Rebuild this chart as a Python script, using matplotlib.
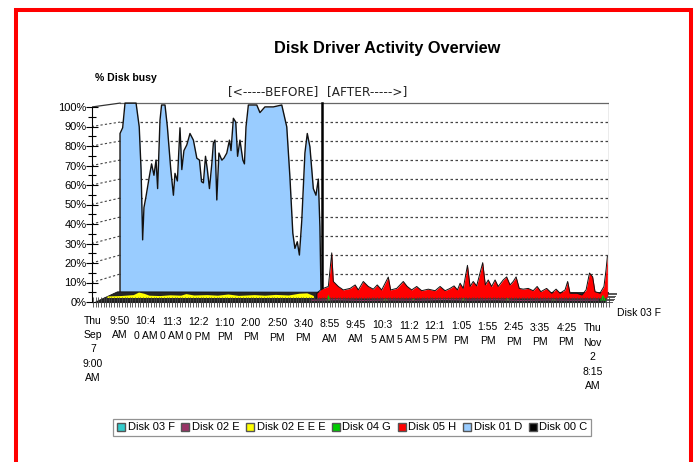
import matplotlib
matplotlib.use('Agg')
import matplotlib.pyplot as plt
import matplotlib.transforms as mtransforms
from matplotlib.lines import Line2D
from matplotlib.patches import Rectangle, Polygon
from matplotlib.ticker import MultipleLocator, NullFormatter

plt.rcParams['font.family'] = ['Liberation Sans', 'DejaVu Sans']

# front axis labels, one per slot
time_labels = ['Thu\nSep\n7\n9:00\nAM', '9:50\nAM', '10:4\n0 AM', '11:3\n0 AM', '12:2\n0 PM',
               '1:10\nPM', '2:00\nPM', '2:50\nPM', '3:40\nPM', '8:55\nAM', '9:45\nAM',
               '10:3\n5 AM', '11:2\n5 AM', '12:1\n5 PM', '1:05\nPM', '1:55\nPM', '2:45\nPM',
               '3:35\nPM', '4:25\nPM', 'Thu\nNov\n2\n8:15\nAM']
y_ticks = [0, 10, 20, 30, 40, 50, 60, 70, 80, 90, 100]
y_labels = ['%d%%' % v for v in y_ticks]

series_names = ['Disk 03 F', 'Disk 02 E', 'Disk 02 E E E', 'Disk 04 G',
                'Disk 05 H', 'Disk 01 D', 'Disk 00 C']
series_colors = ['#33cccc', '#993366', '#ffff00', '#00cc00',
                 '#ff0000', '#99ccff', '#000000']

# Disk 01 D - before the change (x in slots on the back plane, % busy)
d01_x = [0.0, 0.1, 0.19, 0.61, 0.73, 0.8, 0.86, 0.91, 0.99, 1.11, 1.2, 1.29, 1.37, 1.43,
         1.52, 1.58, 1.71, 1.8, 1.93, 2.03, 2.09, 2.18, 2.28, 2.35, 2.43, 2.54, 2.66, 2.79,
         2.92, 3.02, 3.1, 3.17, 3.25, 3.32, 3.4, 3.49, 3.55, 3.61, 3.68, 3.76, 3.87, 3.95,
         4.06, 4.16, 4.22, 4.31, 4.4, 4.47, 4.56, 4.67, 4.73, 4.79, 4.88, 5.2, 5.32, 5.51,
         5.83, 6.15, 6.34, 6.46, 6.57, 6.65, 6.74, 6.82, 6.91, 7.03, 7.12, 7.22, 7.35, 7.45,
         7.54, 7.6, 7.64]
d01_y = [84, 87, 100, 100, 87.5, 65, 28, 45, 51, 61, 68, 62, 70, 55,
         91, 99, 99, 87.5, 65, 51.5, 63, 59, 87, 65, 75, 78, 84, 80.5,
         71, 70, 58.6, 58, 72, 65, 55, 68, 79, 80.5, 49, 73.7, 70, 71,
         73.7, 80.5, 75, 92, 90, 72, 80.5, 70, 68, 87.5, 99, 99, 95, 98,
         98, 99, 87.5, 61, 31.5, 23.5, 27, 20, 38, 73.7, 84, 77, 55, 51.5,
         60, 35, 2]

# Disk 05 H - after the change
d05_x = [7.48, 7.67, 7.92, 8.05, 8.11, 8.3, 8.49, 8.75, 8.94, 9.06, 9.25, 9.44, 9.63, 9.78,
         9.95, 10.2, 10.29, 10.52, 10.77, 10.92, 11.09, 11.28, 11.47, 11.72, 11.98, 12.17,
         12.36, 12.55, 12.7, 12.83, 12.93, 13.05, 13.21, 13.31, 13.43, 13.56, 13.79, 13.89,
         14.0, 14.13, 14.26, 14.38, 14.57, 14.7, 14.83, 14.95, 15.06, 15.18, 15.33, 15.52,
         15.71, 15.86, 16.0, 16.22, 16.41, 16.58, 16.73, 16.92, 17.02, 17.11, 17.37, 17.56,
         17.72, 17.85, 17.97, 18.06, 18.25, 18.4, 18.48, 18.53]
d05_y = [2.5, 4.7, 6, 23.5, 8.6, 6, 4.2, 5, 6.8, 4.2, 8.6, 6, 4.6, 6.8,
         4.2, 10.9, 4.2, 5, 8.6, 6, 4.2, 6, 3.8, 4.6, 3.8, 6,
         3.8, 5, 6.3, 4.2, 7.7, 5, 17, 6, 8.6, 6.3, 18.4, 6.8,
         9.4, 6, 9.4, 6, 9.4, 11, 6.8, 8.6, 11, 5, 4.6, 5,
         3.8, 6, 3.3, 5, 2.5, 4.6, 2.5, 4.2, 8.6, 2.5, 2.5, 1.6,
         4.2, 13, 11, 3.3, 2.5, 6, 14.7, 21.7]

# Disk 02 E E E - small load before the change
d02eee_x = [0, 0.5, 1.0, 1.2, 1.4, 1.6, 2.0, 2.4, 2.8, 3.0, 3.3, 3.8, 4.2, 4.6, 5.0,
            5.6, 6.0, 6.4, 6.9, 7.3, 7.6, 7.85]
d02eee_y = [0.8, 1.0, 1.5, 2.8, 2.2, 1.2, 1.0, 1.4, 1.2, 2.0, 1.3, 1.5, 1.2, 1.8, 1.1,
            1.5, 1.2, 1.6, 1.3, 2.2, 2.4, 1.0]

# Disk 04 G - small spikes after the change
d04_x = [7.9, 8.1, 8.18, 8.26, 10.25, 10.35, 10.45, 11.32, 11.42, 11.52, 13.22, 13.32,
         13.42, 14.89, 14.99, 15.09, 16.64, 16.74, 16.84, 18.5, 18.62, 18.74]
d04_y = [0, 0, 3, 0, 0, 1.2, 0, 0, 1, 0, 0, 1.2,
         0, 0, 1.2, 0, 0, 1, 0, 0, 3, 0]

# Disk 02 E - faint trace after the change
d02e_x = [8.0, 9.0, 10.0, 11.0, 12.0, 13.0, 14.0, 15.0, 16.0, 17.0, 18.0, 18.9]
d02e_y = [0.6, 0.9, 0.5, 0.8, 0.6, 1.0, 0.7, 0.9, 0.5, 0.8, 0.6, 0.7]

boundary_x = 7.68

fig = plt.figure(figsize=(6.95, 4.62), dpi=100)
W, H = 695.0, 462.0
ax = fig.add_axes([91.7 / W, 1 - 307.85 / H, 516.8 / W, 208.65 / H])
ax.set_xlim(-0.05, 19.6)
ax.set_ylim(-3, 104)
ax.patch.set_alpha(0)

# oblique "3D" planes
DX, DY, SY = 1.027, 4.6, 0.974
back_aff = mtransforms.Affine2D().scale(1, SY).translate(DX, DY)
back = back_aff + ax.transData
red_pl = mtransforms.Affine2D().scale(1, 0.985).translate(DX, 2.05) + ax.transData
yel_pl = mtransforms.Affine2D().translate(0.53, 2.3) + ax.transData
grn_pl = mtransforms.Affine2D().translate(0.75, 1.0) + ax.transData
mag_pl = mtransforms.Affine2D().translate(0.3, 0.3) + ax.transData
wall_end = 18.59

# back wall grid + connectors
for v in y_ticks[1:-1]:
    ax.plot([0, wall_end], [v, v], transform=back, color='#444444', lw=0.9,
            ls=(0, (2, 2)), zorder=1)
    bx, by = back_aff.transform([[0, v]])[0]
    ax.plot([-0.05, bx], [v, by], color='#444444', lw=0.8, ls=(0, (2, 2)), zorder=1)
ax.plot([0, wall_end], [100, 100], transform=back, color='#666666', lw=0.9, zorder=1)
ax.plot([wall_end, wall_end], [0, 100], transform=back, color='#666666', lw=0.9, zorder=1)
bx, by = back_aff.transform([[0, 100]])[0]
ax.plot([-0.05, bx], [100, by], color='#333333', lw=0.9, zorder=1)

# back series
ax.fill_between(d01_x, 0, d01_y, transform=back, color=series_colors[5], lw=0, zorder=3)
ax.plot([0] + d01_x, [0] + d01_y, transform=back, color='#111111', lw=1.0, zorder=3.2)
ax.plot([boundary_x, boundary_x], [0, 100], transform=back, color='black', lw=1.8, zorder=3.3)

# floor of the 3D box
floor = Polygon([(0.1, 0), (19.47, 0), (19.62, 4.8), (0.93, 5.2)], closed=True,
                facecolor='#262626', edgecolor='#111111', lw=0.6, zorder=3.4)
ax.add_patch(floor)

# Disk 05 H sits a little in front of the back wall
ax.fill_between(d05_x, 0, d05_y, transform=red_pl, color=series_colors[4], lw=0, zorder=3.6)
ax.plot([d05_x[0]] + d05_x, [0] + d05_y, transform=red_pl, color='#111111', lw=0.7, zorder=3.7)

# front series on the floor
ax.fill_between(d02eee_x, 0, d02eee_y, transform=yel_pl, color=series_colors[2], lw=0, zorder=4)
ax.fill_between(d04_x, 0, d04_y, transform=grn_pl, color=series_colors[3], lw=0, zorder=4.1)
ax.plot(d02e_x, d02e_y, transform=mag_pl, color=series_colors[1], lw=0.8, zorder=4.2)

# depth ticks at the right of the floor
for k in range(7):
    t = k / 6.0
    zx = 19.47 + 0.15 * t
    zy = 0 + 4.8 * t
    ax.plot([zx, zx + 0.28], [zy, zy], color='#555555', lw=0.7, clip_on=False, zorder=4)
ax.text(19.92, -5.6, 'Disk 03 F', fontsize=7.5, ha='left', va='center', clip_on=False)

# axes
for side in ['top', 'right']:
    ax.spines[side].set_visible(False)
ax.spines['left'].set_bounds(0, 100)
ax.spines['left'].set_position(('data', -0.05))
ax.spines['bottom'].set_position(('data', 0))
ax.spines['bottom'].set_bounds(0.1, 19.47)
ax.spines['bottom'].set_color('#333333')
ax.set_yticks(y_ticks)
ax.set_yticklabels(y_labels, fontsize=8)
ax.yaxis.set_minor_locator(MultipleLocator(5))
ax.tick_params(axis='y', which='major', direction='inout', length=8, width=0.8, pad=-0.5)
ax.tick_params(axis='y', which='minor', direction='inout', length=6, width=0.8)
ax.xaxis.set_major_locator(MultipleLocator(0.1))
ax.xaxis.set_major_formatter(NullFormatter())
ax.tick_params(axis='x', which='major', direction='inout', length=7.5, width=0.6, color='#444444')
ax.xaxis.set_zorder(5)

for i, lab in enumerate(time_labels):
    ax.text(i, (302 - (315.5 + 0.42 * i)) / 1.95, lab, ha='center', va='top',
            fontsize=7.5, linespacing=1.55, clip_on=False)

# titles
fig.text(387 / W, 1 - 48 / H, 'Disk Driver Activity Overview', fontsize=11.8,
         fontweight='bold', ha='center', va='center')
fig.text(95 / W, 1 - 78 / H, '% Disk busy', fontsize=7.6, fontweight='bold',
         ha='left', va='center')
fig.text(318 / W, 1 - 92 / H, '[<-----BEFORE]', fontsize=8.7, color='#222222',
         ha='right', va='center', family='DejaVu Sans')
fig.text(327 / W, 1 - 92 / H, '[AFTER----->]', fontsize=8.7, color='#222222',
         ha='left', va='center', family='DejaVu Sans')

handles = [Line2D([], [], marker='s', linestyle='none', markerfacecolor=c,
                  markeredgecolor='#555555', markersize=5.5, label=n)
           for n, c in zip(series_names, series_colors)]
leg = fig.legend(handles=handles, loc='center', bbox_to_anchor=(352 / W, 1 - 427.5 / H),
                 ncol=7, fontsize=8, frameon=True, fancybox=False, handlelength=0.8,
                 handletextpad=0.2, columnspacing=0.55, borderpad=0.35)
leg.get_frame().set_edgecolor('#777777')
leg.get_frame().set_linewidth(0.9)

fig.add_artist(Rectangle((16 / W, -0.05), (691 - 16) / W, 1 - 10 / H + 0.05,
                         transform=fig.transFigure, fill=False, edgecolor='red', lw=2.9))

fig.savefig('out.png', dpi=100)
